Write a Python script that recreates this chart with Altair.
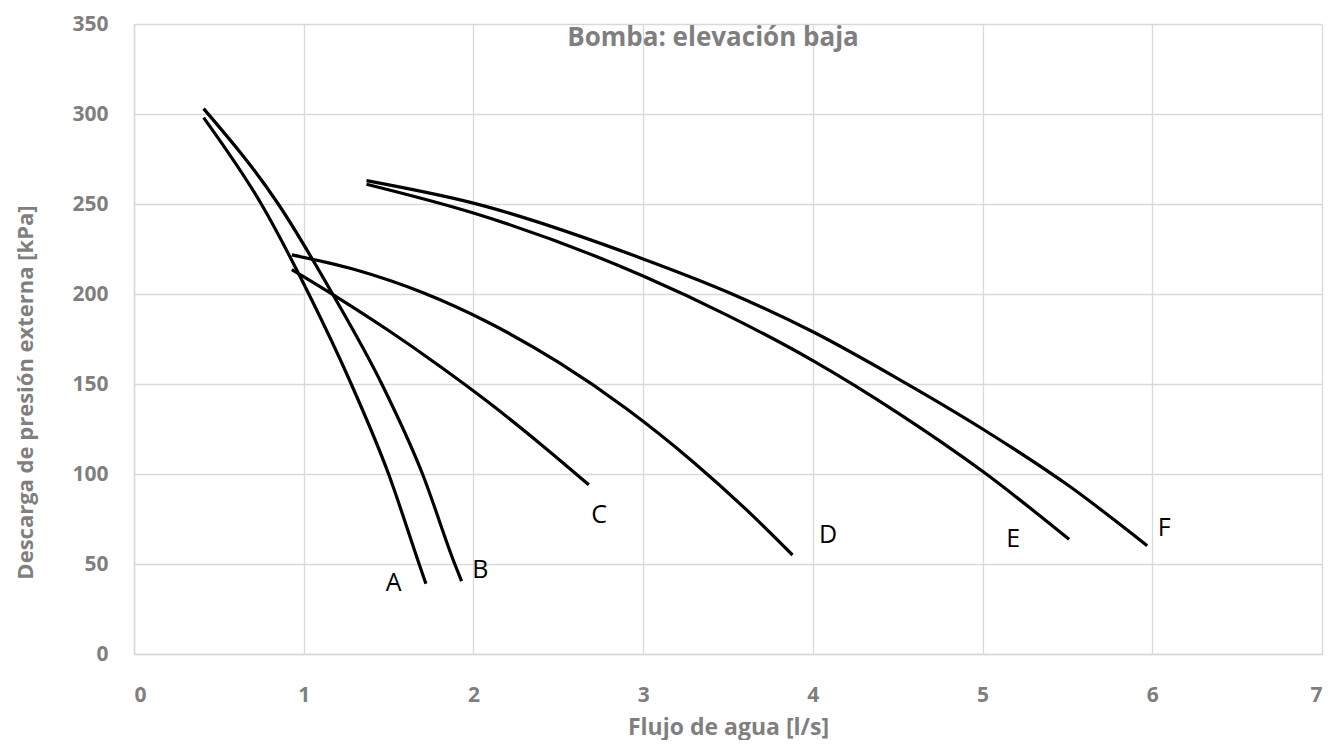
import altair as alt
import pandas as pd

# Curve data (flow l/s, pressure kPa)
a_x = [0.41, 0.75, 1.03, 1.28, 1.50, 1.68, 1.72]
a_y = [298, 250, 200, 150, 100, 50, 39]
b_x = [0.41, 0.85, 1.17, 1.46, 1.70, 1.89, 1.93]
b_y = [303, 250, 200, 150, 100, 50, 40.5]
c_x = [0.93, 1.2, 1.5, 1.8, 2.1, 2.4, 2.68]
c_y = [213.5, 198, 179.7, 160, 139, 116.3, 94]
d_x = [0.93, 1.3, 1.7, 2.1, 2.5, 2.9, 3.3, 3.6, 3.88]
d_y = [221.7, 213.6, 200.8, 183.6, 162.1, 136.4, 106.3, 80.9, 55]
e_x = [1.37, 2.0, 3.0, 3.5, 4.0, 4.5, 5.0, 5.51]
e_y = [261, 245, 210, 188, 163, 134, 101.5, 63.7]
f_x = [1.37, 2.0, 3.0, 3.5, 4.0, 4.5, 5.0, 5.5, 5.97]
f_y = [263, 250.5, 219.5, 201, 179, 153, 125, 94, 60.2]

label_text = ["A", "B", "C", "D", "E", "F"]
label_x = [1.53, 2.04, 2.74, 4.09, 5.18, 6.07]
label_y = [39.7, 46.9, 77, 66, 64, 70]

x_ticks = [0, 1, 2, 3, 4, 5, 6, 7]
y_ticks = [0, 50, 100, 150, 200, 250, 300, 350]

title_text = "Bomba: elevación baja"
x_title = "Flujo de agua [l/s]"
y_title = "Descarga de presión externa [kPa]"

rows = []
for name, xs, ys in [("A", a_x, a_y), ("B", b_x, b_y), ("C", c_x, c_y),
                     ("D", d_x, d_y), ("E", e_x, e_y), ("F", f_x, f_y)]:
    for i, (xv, yv) in enumerate(zip(xs, ys)):
        rows.append({"serie": name, "q": xv, "p": yv, "i": i})
df = pd.DataFrame(rows)
labels = pd.DataFrame({"t": label_text, "q": label_x, "p": label_y})

GRAY = "#7f7f7f"
GRID = "#d9d9d9"
FONT = "Open Sans"

xs = alt.Scale(domain=[0, 7], nice=False, zero=True)
ys = alt.Scale(domain=[0, 350], nice=False)

lines = alt.Chart(df).mark_line(color="black", strokeWidth=3.2, interpolate="monotone").encode(
    x=alt.X("q:Q", scale=xs, title=x_title,
            axis=alt.Axis(values=x_ticks, format="d", grid=True,
                          gridColor=GRID, gridWidth=1.3, domainColor=GRID, domainWidth=1.5,
                          ticks=False, labelPadding=30, labelFontSize=21, labelFont=FONT,
                          labelFontWeight="bold", labelColor=GRAY, titleFont=FONT,
                          titleFontSize=23, titleFontWeight="bold", titleColor=GRAY,
                          titlePadding=11)),
    y=alt.Y("p:Q", scale=ys, title=y_title,
            axis=alt.Axis(values=y_ticks, grid=True,
                          gridColor=GRID, gridWidth=1.3, domainColor=GRID, domainWidth=1.5,
                          ticks=False, labelPadding=26, labelFontSize=21, labelFont=FONT,
                          labelFontWeight="bold", labelColor=GRAY, titleFont=FONT,
                          titleFontSize=22, titleFontWeight="bold", titleColor=GRAY,
                          titlePadding=34, titleY=368)),
    detail="serie:N",
    order="i:Q",
)

txt = alt.Chart(labels).mark_text(font=FONT, fontSize=25, color="black").encode(
    x=alt.X("q:Q", scale=xs), y=alt.Y("p:Q", scale=ys), text="t:N"
)

title = alt.Chart(pd.DataFrame({"t": [title_text]})).mark_text(
    font=FONT, fontSize=26, fontWeight="bold", color=GRAY
).encode(x=alt.value(579), y=alt.value(14), text="t:N")

chart = alt.layer(lines, txt, title).properties(
    width=1188, height=630,
    autosize=alt.AutoSizeParams(type="none"),
    padding={"left": 126, "top": 16, "right": 4, "bottom": 86},
).configure_view(stroke=None)

chart.save("out.html", embed_options={"renderer": "svg", "actions": False})
